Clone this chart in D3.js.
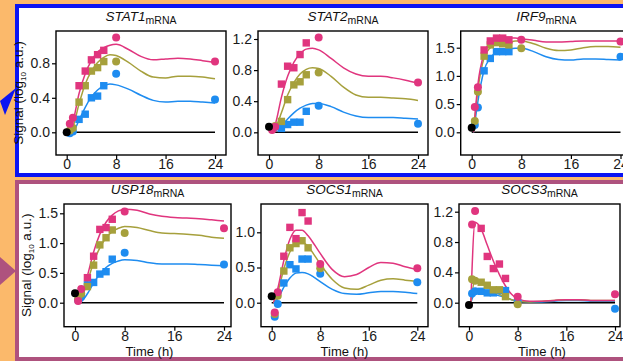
<!DOCTYPE html>
<html>
<head>
<meta charset="utf-8">
<script src="https://cdn.jsdelivr.net/npm/d3@7"></script>
<style>
  html, body { margin: 0; padding: 0; background: #fbb96b; }
  svg { display: block; font-family: "Liberation Sans", Arial, sans-serif; }
</style>
</head>
<body>
<svg id="chart" width="623" height="361"></svg>
<script>
// ---------------------------------------------------------------------------
// Data
// ---------------------------------------------------------------------------
const GENES = ["STAT1", "STAT2", "IRF9", "USP18", "SOCS1", "SOCS3"];
const TIMES = [0.5, 1, 2, 3, 4, 5, 6, 8, 24];
const SHAPES = ["c", "c", "s", "s", "s", "s", "s", "c", "c"];
const FIT_T = [0.3, 1, 2, 3, 4, 5, 6, 7, 8, 10, 12, 14, 16, 18, 20, 22, 24];

// control (black dot at t = 0)
const CTRL = [0.0, 0.07, 0.08, 0.16, 0.09, -0.03];

// measured points: high (magenta), mid (olive), low (blue)
const HI = [
  [0.10, 0.17, 0.54, 0.71, 0.84, 0.90, 0.95, 1.10, 0.82],
  [0.03, 0.07, 0.62, 0.85, 0.83, 1.00, 1.15, 1.22, 0.64],
  [0.45, 0.80, 1.46, 1.62, 1.67, 1.67, 1.64, 1.64, 1.61],
  [0.03, 0.23, 0.42, 0.78, 1.23, 1.26, 1.40, 1.53, 1.25],
  [-0.14, 0.15, 0.66, 1.07, 0.91, 1.28, 1.16, 0.55, 0.49],
  [1.03, 1.21, 0.98, 0.61, 0.45, 0.51, 0.32, 0.08, 0.11]
];
const MID = [
  [0.02, 0.05, 0.35, 0.54, 0.71, 0.75, 0.82, 0.82, null],
  [0.05, 0.08, 0.14, 0.42, 0.61, 0.65, 0.74, 0.77, null],
  [0.20, 0.72, 1.35, 1.55, 1.59, 1.57, 1.55, 1.49, null],
  [0.06, 0.15, 0.27, 0.63, 0.97, 1.09, 1.22, 1.17, null],
  [-0.16, 0.10, 0.45, 0.78, 0.84, 0.88, 0.78, 0.49, null],
  [0.31, 0.29, 0.27, 0.23, 0.17, 0.17, 0.08, -0.02, null]
];
const LO = [
  [-0.01, 0.01, 0.15, 0.21, 0.40, 0.42, 0.54, 0.68, 0.38],
  [0.06, 0.07, 0.05, 0.10, 0.13, 0.13, 0.27, 0.34, 0.11],
  [0.13, 0.44, 1.09, 1.31, 1.43, 1.43, 1.43, null, 1.34],
  [0.04, 0.10, 0.30, 0.34, 0.48, 0.52, 0.73, 0.84, 0.64],
  [-0.20, -0.02, 0.28, 0.54, 0.48, 0.62, 0.62, 0.41, 0.29],
  [0.12, 0.15, 0.15, 0.13, 0.13, 0.16, 0.16, 0.02, -0.08]
];

// model fits on FIT_T
const FIT_HI = [
  [0.0, 0.12, 0.45, 0.68, 0.83, 0.93, 0.98, 1.01, 1.02, 0.96, 0.88, 0.84, 0.85, 0.86, 0.85, 0.83, 0.81],
  [0.0, 0.10, 0.45, 0.72, 0.90, 1.01, 1.07, 1.08, 1.06, 0.95, 0.83, 0.75, 0.72, 0.72, 0.70, 0.67, 0.63],
  [0.0, 0.85, 1.40, 1.60, 1.66, 1.67, 1.67, 1.67, 1.66, 1.63, 1.60, 1.60, 1.61, 1.62, 1.62, 1.62, 1.62],
  [0.0, 0.10, 0.45, 0.85, 1.15, 1.35, 1.47, 1.54, 1.57, 1.55, 1.49, 1.45, 1.43, 1.42, 1.41, 1.39, 1.37],
  [0.0, 0.20, 0.60, 0.90, 1.03, 1.03, 0.95, 0.83, 0.70, 0.47, 0.37, 0.40, 0.50, 0.57, 0.56, 0.51, 0.47],
  [0.0, 1.06, 0.97, 0.76, 0.55, 0.37, 0.22, 0.11, 0.05, 0.02, 0.02, 0.03, 0.04, 0.04, 0.03, 0.03, 0.03]
];
const FIT_MID = [
  [0.0, 0.06, 0.33, 0.56, 0.71, 0.81, 0.87, 0.90, 0.89, 0.81, 0.71, 0.64, 0.63, 0.65, 0.65, 0.64, 0.62],
  [0.0, 0.05, 0.25, 0.48, 0.64, 0.75, 0.81, 0.83, 0.82, 0.72, 0.58, 0.48, 0.45, 0.45, 0.44, 0.43, 0.41],
  [0.0, 0.75, 1.32, 1.50, 1.56, 1.58, 1.59, 1.62, 1.62, 1.57, 1.49, 1.45, 1.46, 1.50, 1.52, 1.52, 1.51],
  [0.0, 0.08, 0.35, 0.68, 0.92, 1.09, 1.19, 1.25, 1.28, 1.26, 1.21, 1.17, 1.16, 1.15, 1.13, 1.10, 1.08],
  [0.0, 0.15, 0.48, 0.72, 0.84, 0.86, 0.80, 0.68, 0.55, 0.33, 0.21, 0.19, 0.25, 0.32, 0.34, 0.32, 0.30],
  [0.0, 0.30, 0.28, 0.22, 0.16, 0.11, 0.07, 0.04, 0.02, 0.01, 0.02, 0.03, 0.04, 0.04, 0.03, 0.03, 0.03]
];
const FIT_LO = [
  [0.0, 0.01, 0.14, 0.29, 0.41, 0.49, 0.54, 0.56, 0.55, 0.50, 0.43, 0.37, 0.35, 0.36, 0.36, 0.35, 0.34],
  [0.0, 0.02, 0.08, 0.17, 0.25, 0.31, 0.35, 0.37, 0.37, 0.33, 0.26, 0.21, 0.19, 0.19, 0.19, 0.18, 0.17],
  [0.0, 0.55, 1.10, 1.32, 1.42, 1.46, 1.48, 1.49, 1.49, 1.43, 1.34, 1.29, 1.28, 1.30, 1.30, 1.29, 1.28],
  [0.0, 0.02, 0.15, 0.33, 0.48, 0.59, 0.66, 0.70, 0.72, 0.71, 0.67, 0.65, 0.65, 0.65, 0.64, 0.63, 0.62],
  [0.0, 0.06, 0.22, 0.35, 0.42, 0.43, 0.41, 0.36, 0.30, 0.19, 0.13, 0.12, 0.14, 0.16, 0.16, 0.15, 0.13],
  [0.0, 0.12, 0.13, 0.12, 0.11, 0.09, 0.07, 0.04, 0.02, 0.01, 0.01, 0.02, 0.03, 0.03, 0.02, 0.02, 0.02]
];

const X_TICKS = [0, 8, 16, 24];
const Y_TICKS = [
  [0, 0.4, 0.8],
  [0, 0.4, 0.8, 1.2],
  [0, 0.5, 1.0, 1.5],
  [0, 0.5, 1.0, 1.5],
  [0, 0.5, 1.0],
  [0, 0.4, 0.8, 1.2]
];

// ---------------------------------------------------------------------------
// Layout
// ---------------------------------------------------------------------------
const COLORS = { hi: "#e0357e", mid: "#a6a03c", lo: "#1e8cf0", ctrl: "#000" };

// box: plot frame; x0/x24: pixel of t=0 / t=24; y0/yTop: pixel of 0 / last y tick
const PANELS = [
  { l: 56, r: 226, t: 31, b: 155, x0: 66.7, x24: 215, y0: 132.3, yTop: 63.3, ylab: true, xlab: false },
  { l: 258, r: 428, t: 31, b: 155, x0: 269, x24: 418, y0: 132.3, yTop: 39, ylab: false, xlab: false },
  { l: 460.7, r: 632, t: 31, b: 155, x0: 471.7, x24: 620.5, y0: 132.3, yTop: 47.7, ylab: false, xlab: false },
  { l: 64, r: 231, t: 204, b: 326.7, x0: 75, x24: 224, y0: 302.7, yTop: 213.3, ylab: true, xlab: true },
  { l: 261, r: 428, t: 204, b: 326.7, x0: 271.7, x24: 417.3, y0: 302.7, yTop: 232.3, ylab: false, xlab: true },
  { l: 459, r: 620, t: 204, b: 326.7, x0: 469, x24: 615, y0: 302.7, yTop: 211.7, ylab: false, xlab: true }
];

const svg = d3.select("#chart");

// background + group frames
svg.append("rect").attr("width", 623).attr("height", 361).attr("fill", "#fbb96b");
svg.append("polygon").attr("points", "16,88 0,101 5,115").attr("fill", "#0b14f2");
svg.append("polygon").attr("points", "0,257 16,271 0,285").attr("fill", "#ae527e");
svg.append("rect").attr("x", 17).attr("y", 6).attr("width", 640).attr("height", 169)
  .attr("fill", "#fff").attr("stroke", "#0b14f2").attr("stroke-width", 4);
svg.append("rect").attr("x", 17).attr("y", 182).attr("width", 640).attr("height", 177)
  .attr("fill", "#fff").attr("stroke", "#ae527e").attr("stroke-width", 4);

const line = d3.line().curve(d3.curveMonotoneX);

PANELS.forEach((p, i) => {
  const x = d3.scaleLinear().domain([0, 24]).range([p.x0, p.x24]);
  const yt = Y_TICKS[i];
  const y = d3.scaleLinear().domain([0, yt[yt.length - 1]]).range([p.y0, p.yTop]);
  const g = svg.append("g");

  // title
  const title = g.append("text")
    .attr("x", (p.l + p.r) / 2).attr("y", p.t - 10)
    .attr("text-anchor", "middle").attr("font-size", 13.5).attr("fill", "#111");
  title.append("tspan").attr("font-style", "italic").text(GENES[i]);
  title.append("tspan").attr("font-size", 10.5).attr("dy", 3).text("mRNA");

  // zero reference line
  g.append("line")
    .attr("x1", x(0)).attr("x2", x(24)).attr("y1", y(0)).attr("y2", y(0))
    .attr("stroke", "#000").attr("stroke-width", 1.5);

  // fitted curves
  [["lo", FIT_LO], ["mid", FIT_MID], ["hi", FIT_HI]].forEach(([k, arr]) => {
    g.append("path")
      .attr("d", line(FIT_T.map((t, j) => [x(t), y(arr[i][j])])))
      .attr("fill", "none").attr("stroke", COLORS[k]).attr("stroke-width", 1.5);
  });

  // points
  [["lo", LO], ["mid", MID], ["hi", HI]].forEach(([k, arr]) => {
    const pts = TIMES.map((t, j) => ({ t, v: arr[i][j], s: SHAPES[j] })).filter(d => d.v != null);
    g.selectAll(null).data(pts.filter(d => d.s === "c")).join("circle")
      .attr("cx", d => x(d.t)).attr("cy", d => y(d.v)).attr("r", 4)
      .attr("fill", COLORS[k]);
    g.selectAll(null).data(pts.filter(d => d.s === "s")).join("rect")
      .attr("x", d => x(d.t) - 3.7).attr("y", d => y(d.v) - 3.7)
      .attr("width", 7.4).attr("height", 7.4).attr("fill", COLORS[k]);
  });
  g.append("circle").attr("cx", x(0)).attr("cy", y(CTRL[i])).attr("r", 4).attr("fill", COLORS.ctrl);

  // frame
  g.append("rect").attr("x", p.l).attr("y", p.t).attr("width", p.r - p.l).attr("height", p.b - p.t)
    .attr("fill", "none").attr("stroke", "#000").attr("stroke-width", 1.4);

  // axes
  const yAxis = g.append("g").attr("transform", `translate(${p.l},0)`)
    .call(d3.axisLeft(y).tickValues(yt).tickSize(4).tickFormat(d3.format(".1f")));
  const xAxis = g.append("g").attr("transform", `translate(0,${p.b})`)
    .call(d3.axisBottom(x).tickValues(X_TICKS).tickSize(4));
  [yAxis, xAxis].forEach(a => {
    a.select(".domain").remove();
    a.selectAll("line").attr("stroke", "#000").attr("stroke-width", 1.2);
    a.selectAll("text").attr("font-size", 14).attr("fill", "#1a1a1a")
      .attr("font-family", "'Liberation Sans', Arial, sans-serif");
  });
  yAxis.selectAll("text").attr("x", -6);
  xAxis.selectAll("text").attr("y", 4.5);

  if (p.ylab) {
    const yl = g.append("text")
      .attr("transform", `translate(${p.l - 33},${(p.t + p.b) / 2}) rotate(-90)`)
      .attr("text-anchor", "middle").attr("font-size", 13.5).attr("fill", "#111");
    yl.append("tspan").text("Signal (log");
    yl.append("tspan").attr("font-size", 8).attr("dy", 3).text("10");
    yl.append("tspan").attr("dy", -3).text(" a.u.)");
  }
  if (p.xlab) {
    g.append("text")
      .attr("x", x(12)).attr("y", p.b + 29.5)
      .attr("text-anchor", "middle").attr("font-size", 13).attr("fill", "#111")
      .text("Time (h)");
  }
});
</script>
</body>
</html>
